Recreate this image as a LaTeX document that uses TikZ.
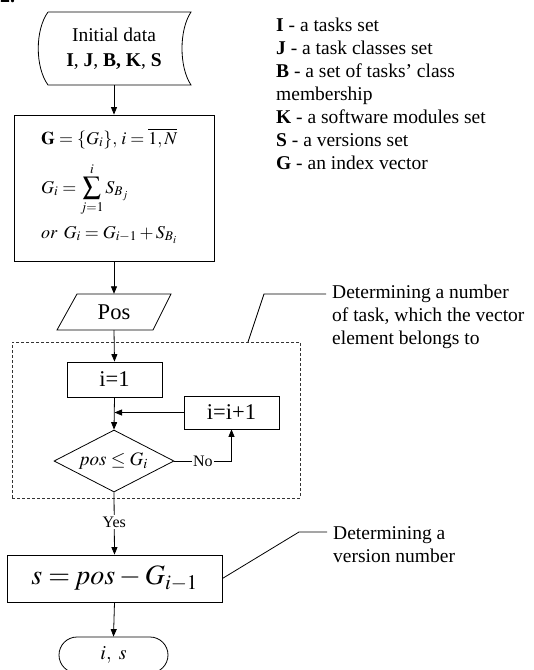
\documentclass[tikz,border=0pt]{standalone}
\usepackage{mathptmx}
\usepackage{fontspec}
\setmainfont{Liberation Serif}
\usetikzlibrary{arrows.meta,shapes.geometric,shapes.misc,calc}
\tikzset{
  ln/.style={line width=0.8pt},
  box/.style={draw,ln,rectangle,inner sep=0pt},
  arr/.style={ln,-{Triangle[length=7.5pt,width=6pt]}},
  txt/.style={font=\fontsize{19.5}{23}\selectfont,inner sep=0pt},
  lbl/.style={font=\fontsize{16}{18}\selectfont,fill=white,inner sep=1.5pt},
  dbox/.style={draw=black!80,ln,dash pattern=on 3pt off 2pt},
}
\begin{document}
\begin{tikzpicture}[x=1pt,y=-1pt]
\useasboundingbox (0,0) rectangle (534,670);
\clip (0,0) rectangle (534,670);
% partial heading
\node[anchor=base west,inner sep=0pt,font=\fontsize{20}{22}\selectfont\bfseries] (hd) at (0,2) {2.};
% initial data
\node[txt,align=center,minimum height=73pt] (init) at (114,48.5) {Initial data\\[2pt]\textbf{I}, \textbf{J}, \textbf{B, K}, \textbf{S}};
\draw[ln] (48,12) -- (191,12) .. controls (179,30) and (179,67) .. (191,85) -- (48,85) .. controls (35,67) and (35,30) .. (48,12);
% G box
\node[box,minimum width=200pt,minimum height=146pt] (gbox) at (114,188) {};
\node[anchor=base west,inner sep=0pt,font=\fontsize{18}{22}\selectfont] (g1) at (41,144) {$\mathbf{G}=\{G_i\},\, i=\overline{1,N}$};
\node[anchor=base west,inner sep=0pt,font=\fontsize{18}{22}\selectfont] (g2) at (41,193) {$\displaystyle G_i=\sum_{j=1}^{i} S_{B_j}$};
\node[anchor=base west,inner sep=0pt,font=\fontsize{18}{22}\selectfont] (g3) at (41,238) {$\mathit{or}\;\, G_i=G_{i-1}+S_{B_i}$};
% Pos
\node[txt,minimum height=36pt,font=\fontsize{22.5}{24}\selectfont] (pos) at (114,312) {Pos};
\draw[ln] (77,294) -- (171,294) -- (153,330) -- (57,330) -- cycle;
% dashed area
\node[dbox,inner sep=0pt,minimum width=288pt,minimum height=156pt] (area) at (156,420) {};
% i=1
\node[box,txt,minimum width=95pt,minimum height=35pt,font=\fontsize{22.5}{24}\selectfont] (i1) at (114.5,379.5) {i=1};
\node[box,txt,minimum width=95pt,minimum height=33pt,font=\fontsize{22.5}{24}\selectfont] (iinc) at (231.5,412.5) {i=i+1};
\node[draw,ln,diamond,minimum width=120pt,minimum height=62pt,aspect=1.935,inner sep=0pt,font=\fontsize{19}{22}\selectfont] (dia) at (114,461) {$\mathit{pos}\le G_i$};
% s box
\node[box,minimum width=215pt,minimum height=47pt,font=\fontsize{28}{30}\selectfont] (sbox) at (114.5,578.5) {$s=\mathit{pos}-G_{i-1}$};
% terminal
\node[draw,ln,rounded rectangle,minimum width=109pt,minimum height=36pt,inner sep=0pt,font=\fontsize{20}{22}\selectfont] (term) at (113.5,655) {\raisebox{-3pt}{$i,\ s$}};
% connectors
\draw[arr] (init.south) -- (gbox.north);
\draw[arr] (gbox.south) -- (pos.north);
\draw[arr] (pos.south) -- (i1.north);
\draw[arr] (i1.south) -- (dia.north);
\draw[arr] (iinc.west) -- (iinc.west -| i1.south);
\draw[arr] (dia.east) -- node[lbl] (no) {No} (dia.east -| iinc.south) -- (iinc.south);
\draw[arr] (dia.south) -- node[lbl,pos=0.48] (yes) {Yes} (sbox.north);
\draw[arr] (sbox.south) -- (term.north);
% callouts
\node[txt,anchor=west,align=left] (c1) at (332,317) {Determining a number\\of task, which the vector\\element belongs to};
\coordinate (c1a) at (248,342);
\coordinate (c1b) at (264,294);
\draw[ln] (c1a) -- (c1b) -- ($(c1b -| c1.west)+(-6,0)$);
\node[txt,anchor=west,align=left] (c2) at (333,545) {Determining a\\version number};
\coordinate (c2b) at (299,532);
\draw[ln] (sbox.east) -- (c2b) -- ($(c2b -| c2.west)+(-6,0)$);
% legend
\node[txt,anchor=west,align=left] (leg) at (276,94) {\textbf{I} - a tasks set\\\textbf{J} - a task classes set\\\textbf{B} - a set of tasks' class\\membership\\\textbf{K} - a software modules set\\\textbf{S} - a versions set\\\textbf{G} - an index vector};
\end{tikzpicture}
\end{document}
